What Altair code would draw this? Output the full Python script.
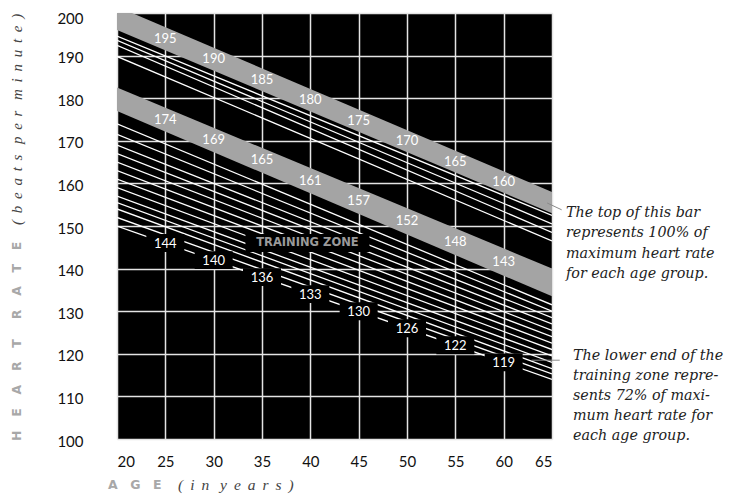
import altair as alt
import pandas as pd

# ---------------- data ----------------
x_ticks = [20, 25, 30, 35, 40, 45, 50, 55, 60, 65]
y_ticks = [100, 110, 120, 130, 140, 150, 160, 170, 180, 190, 200]

# the two shaded bars: value at age 20 and at age 65
band_names = ["max", "upper"]
band_top_20 = [201.5, 182.5]
band_top_65 = [158.0, 140.0]
band_bot_20 = [196.0, 177.0]
band_bot_65 = [153.0, 133.5]

# white lines between the two bars (age 20 -> age 65)
mid_lines_20 = [194.6, 193.6, 192.4, 189.8]
mid_lines_65 = [152.5, 150.5, 148.5, 146.5]

# white lines of the training zone (age 20 -> age 65)
zone_lines_20 = [174.0, 171.5, 169.0, 167.0, 165.0, 163.0, 161.0, 159.0,
                 157.0, 155.5, 154.0, 152.0, 150.0]
zone_lines_65 = [131.5, 130.0, 128.5, 127.0, 125.5, 124.0, 122.5, 121.0,
                 119.5, 118.0, 116.5, 115.3, 114.0]

label_ages = [25, 30, 35, 40, 45, 50, 55, 60]
max_rate_labels = [195, 190, 185, 180, 175, 170, 165, 160]
upper_zone_labels = [174, 169, 165, 161, 157, 152, 148, 143]
lower_zone_labels = [144, 140, 136, 133, 130, 126, 122, 119]

zone_title = "TRAINING ZONE"
note_top = ["The top of this bar", "represents 100% of",
            "maximum heart rate", "for each age group."]
note_low = ["The lower end of the", "training zone repre-",
            "sents 72% of maxi-", "mum heart rate for", "each age group."]

# ---------------- tables ----------------
def at_age(v20, v65, age):
    return v20 + (v65 - v20) * (age - 20) / 45.0

bands = []
for n, t20, t65, b20, b65 in zip(band_names, band_top_20, band_top_65,
                                 band_bot_20, band_bot_65):
    bands.append({"band": n, "age": 20, "top": t20, "bot": b20})
    bands.append({"band": n, "age": 65, "top": t65, "bot": b65})
bands_df = pd.DataFrame(bands)

lines = []
for i, (a, b) in enumerate(zip(mid_lines_20 + zone_lines_20,
                               mid_lines_65 + zone_lines_65)):
    lines.append({"id": i, "age": 20, "val": a})
    lines.append({"id": i, "age": 65, "val": b})
lines_df = pd.DataFrame(lines)

band_lab = []
for k, labs in enumerate([max_rate_labels, upper_zone_labels]):
    for age, lab in zip(label_ages, labs):
        c = 0.5 * (at_age(band_top_20[k], band_top_65[k], age) +
                   at_age(band_bot_20[k], band_bot_65[k], age))
        band_lab.append({"age": age, "val": c, "txt": str(lab)})
band_lab_df = pd.DataFrame(band_lab)

low_lab_df = pd.DataFrame({
    "age": label_ages,
    "val": [at_age(zone_lines_20[-1], zone_lines_65[-1], a) for a in label_ages],
    "txt": [str(v) for v in lower_zone_labels],
})

zone_df = pd.DataFrame({"age": [39.7], "val": [146.0], "txt": [zone_title]})

leader_df = pd.DataFrame({
    "id": [0, 0, 1, 1],
    "age": [64.5, 66.0, 62.9, 65.8],
    "val": [155.4, 153.8, 118.5, 118.5],
})

# ---------------- encodings ----------------
xs = alt.Scale(domain=[20, 65], nice=False, zero=False)
ys = alt.Scale(domain=[100, 200], nice=False, zero=False)
x_axis = alt.Axis(values=x_ticks, title=None, labelPadding=15, grid=True,
                  gridColor="#e4e4e4", gridWidth=1.5)
y_axis = alt.Axis(values=y_ticks, title=None, labelPadding=34, grid=True,
                  labelOffset={"condition": {"test": "datum.value == 200", "value": 5},
                               "value": 2},
                  gridColor="#e4e4e4", gridWidth=1.5)

def X(f="age"):
    return alt.X(f"{f}:Q", scale=xs, axis=x_axis)

def Y(f="val"):
    return alt.Y(f"{f}:Q", scale=ys, axis=y_axis)

band_layer = alt.Chart(bands_df).mark_area(color="#a4a4a4", clip=True, opacity=1).encode(
    x=X(), y=Y("top"), y2="bot:Q", detail="band:N")

line_layer = alt.Chart(lines_df).mark_line(color="white", strokeWidth=1.3, clip=True).encode(
    x=X(), y=Y(), detail="id:N")

band_text = alt.Chart(band_lab_df).mark_text(
    color="white", font="Lato", fontSize=13, baseline="middle", align="center"
).encode(x=X(), y=Y(), text="txt:N")

box_small = "M-1,-0.47L1,-0.47L1,0.47L-1,0.47Z"
low_box = alt.Chart(low_lab_df).mark_point(
    shape=box_small, size=38 * 38, filled=True, fill="black", strokeWidth=0, opacity=1
).encode(x=X(), y=Y())
low_text = alt.Chart(low_lab_df).mark_text(
    color="white", font="Lato", fontSize=13, baseline="middle", align="center", dy=1
).encode(x=X(), y=Y(), text="txt:N")

box_wide = "M-1,-0.145L1,-0.145L1,0.145L-1,0.145Z"
zone_box = alt.Chart(zone_df).mark_point(
    shape=box_wide, size=124 * 124, filled=True, fill="black", strokeWidth=0, opacity=1
).encode(x=X(), y=Y())
zone_text = alt.Chart(zone_df).mark_text(
    color="#9a9a9a", font="DejaVu Sans", fontWeight="bold", fontSize=11.5,
    baseline="middle", align="center"
).encode(x=X(), y=Y(), text="txt:N")

leader = alt.Chart(leader_df).mark_line(color="#8a8a8a", strokeWidth=1).encode(
    x=X(), y=Y(), detail="id:N")

one = alt.Data(values=[{}])
EM = "\u2003"
TH = "\u2009"
HAIR = "\u200a"
NB = "\u00a0"
CAPGAP = EM + HAIR
heart = CAPGAP.join("HEART") + CAPGAP + "\u2002" + CAPGAP.join("RATE")
age_word = EM.join("AGE")
SP = " " + TH


def spaced(words):
    return "(" + SP + (SP + NB).join(SP.join(w) for w in words) + SP + ")"


beats = spaced(["beats", "per", "minute"])
years = spaced(["in", "years"])

y_title1 = alt.Chart(one).mark_text(
    text=heart, angle=270, align="left", baseline="middle", font="DejaVu Sans",
    fontWeight="bold", fontSize=12.5, color="#a8a8a8"
).encode(x=alt.value(-100), y=alt.value(428))
y_title2 = alt.Chart(one).mark_text(
    text=beats, angle=270, align="left",
    baseline="middle", font="Liberation Serif", fontStyle="italic", fontSize=15,
    color="#444444"
).encode(x=alt.value(-100), y=alt.value(212))

x_title1 = alt.Chart(one).mark_text(
    text=age_word, align="left", baseline="middle", font="DejaVu Sans",
    fontWeight="bold", fontSize=12.5, color="#a8a8a8"
).encode(x=alt.value(-9), y=alt.value(472))
x_title2 = alt.Chart(one).mark_text(
    text=years, align="left", baseline="middle",
    font="Liberation Serif", fontStyle="italic", fontSize=15.5, color="#444444"
).encode(x=alt.value(61), y=alt.value(472))

note1 = alt.Chart(one).mark_text(
    text=note_top, align="left", baseline="top", font="DejaVu Serif",
    fontStyle="italic", fontSize=14.3, lineHeight=20.3, color="#222222"
).encode(x=alt.value(449), y=alt.value(193))
note2 = alt.Chart(one).mark_text(
    text=note_low, align="left", baseline="top", font="DejaVu Serif",
    fontStyle="italic", fontSize=14.3, lineHeight=20, color="#222222"
).encode(x=alt.value(456), y=alt.value(336))

chart = alt.layer(
    band_layer, line_layer, leader, band_text, low_box, low_text, zone_box, zone_text,
    y_title1, y_title2, x_title1, x_title2, note1, note2
).properties(
    width=435, height=426,
    padding={"left": 109, "top": 5, "right": 174, "bottom": 55},
    autosize=alt.AutoSizeParams(type="none"),
    background="white",
).configure_view(fill="black", strokeWidth=0).configure_axis(
    domain=False, ticks=False, labelFont="Lato", labelFontSize=15, labelColor="#111111"
)

chart.save("out.html", embed_options={"renderer": "svg", "actions": False})
